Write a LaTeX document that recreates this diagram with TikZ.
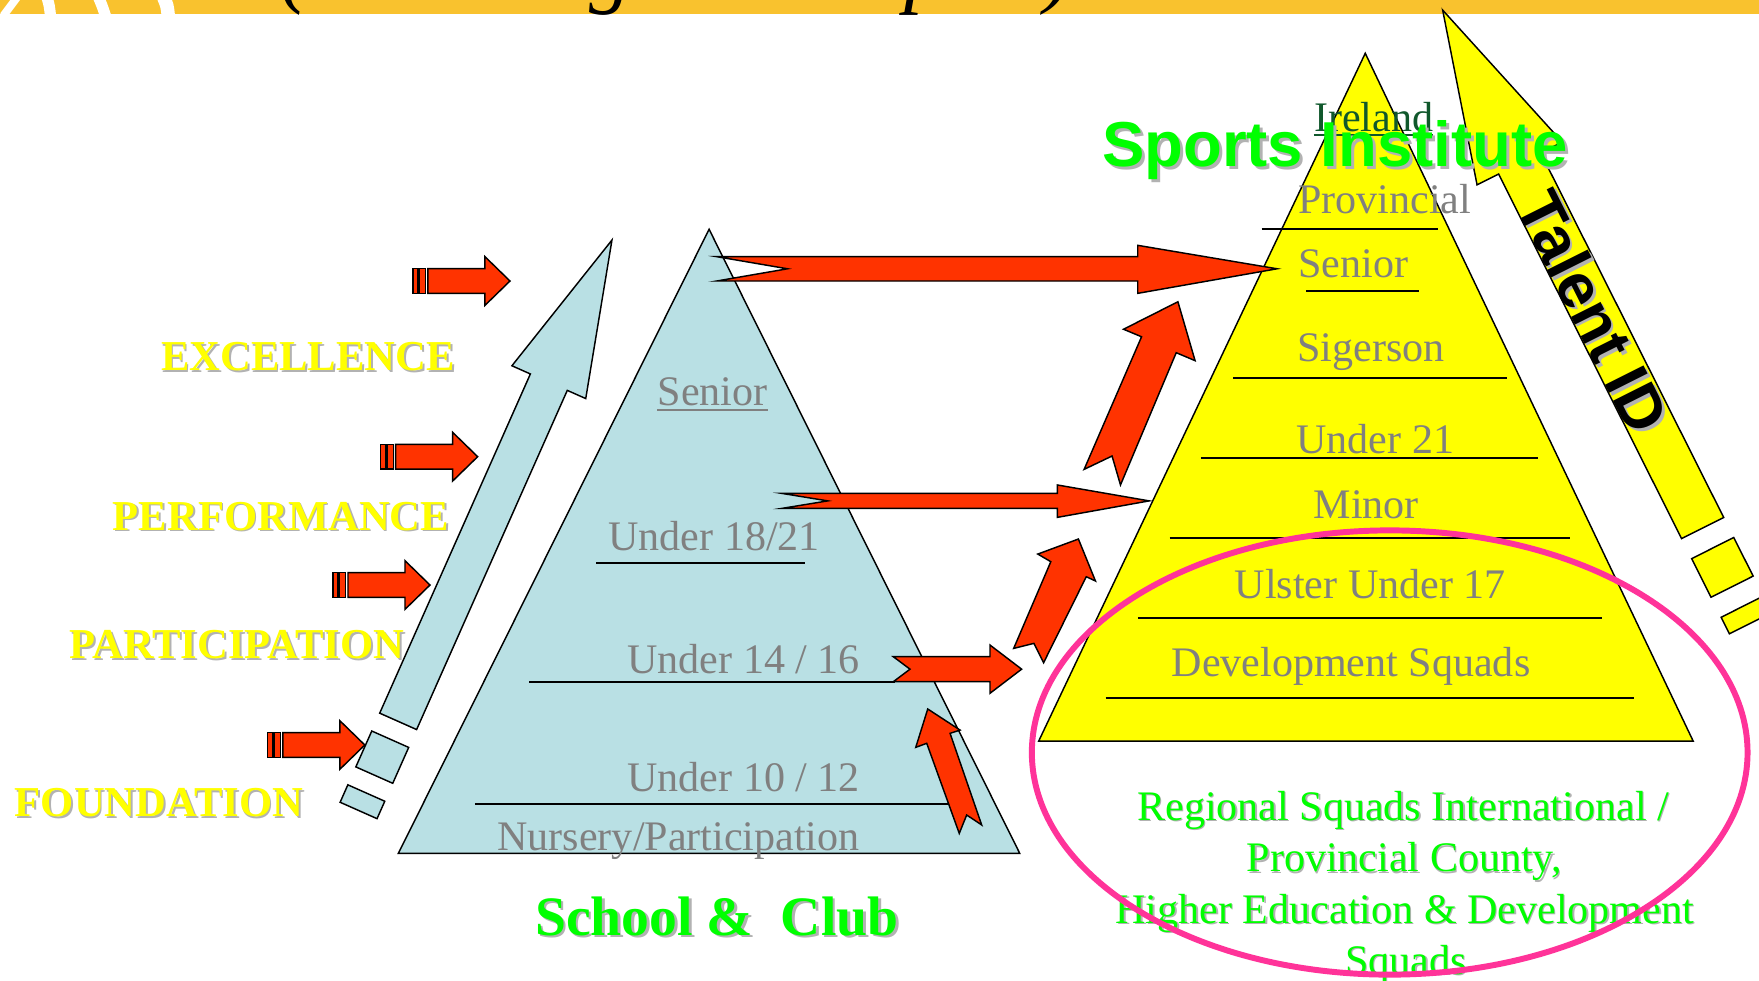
\documentclass[tikz,border=0pt]{standalone}
\usepackage{fontspec}
\setmainfont{Liberation Serif}
\newfontfamily\headsans{Liberation Sans}
\usetikzlibrary{calc}

\definecolor{bandgold}{RGB}{249,194,46}
\definecolor{clubblue}{RGB}{185,224,228}
\definecolor{flowred}{RGB}{255,51,0}
\definecolor{tiergray}{RGB}{128,128,128}
\definecolor{brightgreen}{RGB}{0,255,0}
\definecolor{instyellow}{RGB}{255,255,0}
\definecolor{ringpink}{RGB}{255,51,153}
\definecolor{irelandgreen}{RGB}{16,88,44}
\definecolor{shadowgray}{RGB}{178,178,178}

\newcommand\fsz[1]{\fontsize{#1}{#1}\selectfont}

% a label set twice: a grey drop shadow first, then the coloured text
\newcommand\shadowlabel[5]{% name, style, position, shadow offset, text
  \node[#2, text=shadowgray] (#1-shadow) at ($#3+(#4,#4)$) {#5};
  \node[#2] (#1) at #3 {#5};
}

% small feeder arrow with two tail bars, tip at (#2,#3)
\newcommand\feeder[3]{%
  \begin{scope}[shift={(#2,#3)}]
    \draw[redpart] (-86.6,-11) rectangle (-82.2,11);
    \draw[redpart] (-81.0,-11) rectangle (-75.1,11);
    \draw[redpart] (-73.1,-11) -- (-22.3,-11) -- (-22.3,-21.7) -- (0,0)
      coordinate (#1) -- (-22.3,21.7) -- (-22.3,11) -- (-73.1,11) -- cycle;
  \end{scope}}

\tikzset{
  outline/.style={draw=black, line width=1.3pt, line join=miter, miter limit=20},
  bluepart/.style={outline, fill=clubblue},
  redpart/.style={outline, fill=flowred},
  yellowpart/.style={outline, fill=instyellow},
  tierline/.style={draw=black, line width=1.7pt},
  tiertext/.style={anchor=base, inner sep=0pt, text=tiergray, font=\fsz{37.5}},
  stagetext/.style={anchor=base, inner sep=0pt, text=instyellow, font=\bfseries\fsz{38}},
  greentext/.style={anchor=base, inner sep=0pt, text=brightgreen, font=\fsz{37.5}},
}

\begin{document}
\begin{tikzpicture}[x=1pt, y=-1pt]
\useasboundingbox (0,0) rectangle (1568,874);
\fill[white] (0,0) rectangle (1568,874);
\begin{scope}
\clip (0,0) rectangle (1568,874);

% ---------- heading band ----------
\fill[bandgold] (0,0) rectangle (1568,12.5);
\begin{scope}
  \clip (0,0) rectangle (170,12.5);
  \draw[white, line width=7pt] (15,-2) -- (3,14);
  \draw[white, line width=10pt] (42,-2) .. controls (44,5) .. (45,14);
  \draw[white, line width=10pt] (88,-2) .. controls (91,5) .. (94,14);
  \draw[white, line width=12pt] (146,-2) .. controls (149,5) .. (150,14);
\end{scope}
\node[anchor=base west, inner sep=0pt, font=\itshape\fsz{75}] (title) at (250,-2) {(Advantage to us sport)};

% ---------- rising blue arrow with its broken tail ----------
\draw[bluepart] (545.5,214) coordinate (bluetip) -- (522.13,355.3) -- (505.68,347.99)
  -- (371.37,650.34) -- (338.47,635.72) -- (472.78,333.37) -- (456.33,326.06) -- cycle;
\draw[bluepart] (331.41,651.63) -- (364.31,666.25) -- (350.1,698.24) -- (317.2,683.62) -- cycle;
\draw[bluepart] (310.09,699.61) -- (342.99,714.23) -- (336.09,729.77) -- (303.19,715.15) -- cycle;

% ---------- feeder arrows and stage names ----------
\feeder{feedA}{454.6}{250.5}
\feeder{feedB}{425.8}{407.1}
\feeder{feedC}{383.3}{521.5}
\feeder{feedD}{325.2}{664.1}

\shadowlabel{excellence}{stagetext}{(274.5,330.5)}{1.6}{EXCELLENCE}
\shadowlabel{performance}{stagetext}{(250.4,472.5)}{1.6}{PERFORMANCE}
\shadowlabel{participation}{stagetext}{(211.2,586.9)}{1.6}{PARTICIPATION}
\shadowlabel{foundation}{stagetext}{(141.7,728)}{1.6}{FOUNDATION}

% ---------- School & Club pyramid ----------
\draw[bluepart] (632.1,204.4) -- (909,760.7) -- (355.1,760.7) -- cycle;
\draw[tierline] (531.3,501.6) -- (717.6,501.6);
\draw[tierline] (471.8,607.7) -- (797.5,607.7);
\draw[tierline] (423.4,717) -- (845.3,717);

\node[tiertext] (csenior) at (635.2,361.9) {Senior};
\draw[tiergray, line width=1.4pt] ($(csenior.base west)+(0,3.6)$) -- ($(csenior.base east)+(0,3.6)$);
\node[tiertext] (cu1821) at (636.7,490.3) {Under 18/21};
\node[tiertext] (cu1416) at (662.9,600.2) {Under 14 / 16};
\node[tiertext] (cu1012) at (662.9,705.7) {Under 10 / 12};
\node[tiertext] (cnursery) at (604.9,757.7) {Nursery/Participation};

% ---------- Sports Institute pyramid ----------
\draw[yellowpart] (1217,47.5) -- (1509.3,660.6) -- (925.9,660.6) -- cycle;
\draw[tierline] (1124.6,204.4) -- (1281.9,204.4);
\draw[tierline] (1164.6,259.1) -- (1265.3,259.1);
\draw[tierline] (1099.2,336.7) -- (1343.1,336.7);
\draw[tierline] (1070.5,408) -- (1371.2,408);
\draw[tierline] (1042.5,479.3) -- (1399.7,479.3);
\draw[tierline] (1014.4,550.6) -- (1427.7,550.6);
\draw[tierline] (985.5,621.9) -- (1456.6,621.9);

\node[tiertext, text=irelandgreen] (rireland) at (1224.4,117.4) {Ireland};
\draw[irelandgreen, line width=1.4pt] ($(rireland.base west)+(0,3)$) -- ($(rireland.base east)+(0,3)$);
\node[tiertext] (rprovincial) at (1234.3,190.2) {Provincial};
\node[tiertext] (rsenior) at (1206.5,247.2) {Senior};
\node[tiertext] (rsigerson) at (1222,322.4) {Sigerson};
\node[tiertext] (ru21) at (1225.9,404.2) {Under 21};
\node[tiertext] (rminor) at (1217.9,461.8) {Minor};
\node[tiertext] (rulster) at (1221.5,533.2) {Ulster Under 17};
\node[tiertext] (rdev) at (1204.3,603.2) {Development Squads};

% ---------- transfer arrows between the pyramids ----------
\draw[redpart] (638.9,228.8) -- (1014.2,228.8) -- (1014.2,218.7) -- (1138.4,239.6) coordinate (tipA)
  -- (1014.2,261.5) -- (1014.2,250.5) -- (638.9,250.5) -- (702,239.6) -- cycle;
\draw[redpart] (696.9,439.8) -- (942.5,439.8) -- (942.5,432.3) -- (1024.4,446.5) coordinate (tipB)
  -- (942.5,461.2) -- (942.5,453.2) -- (696.9,453.2) -- (737.9,446.5) -- cycle;
\draw[redpart] (796.3,585.4) -- (882.5,585.4) -- (882.5,575) -- (910.7,596.5) coordinate (tipC)
  -- (882.5,618) -- (882.5,607.7) -- (796.3,607.7) -- (811.2,596.5) -- cycle;
\draw[redpart] (1050,269) coordinate (tipD) -- (1065.3,321.5) -- (1048.5,314.4) -- (998.8,432.3)
  -- (991.3,406.5) -- (966.4,418.4) -- (1017.6,300.2) -- (1001.5,293.5) -- cycle;
\draw[redpart] (961.3,480.5) coordinate (tipE) -- (976.5,517.9) -- (968.3,514.1) -- (930.3,590.7)
  -- (921.7,573.5) -- (903.6,578) -- (936.7,500.7) -- (925.1,493.9) -- cycle;
\draw[redpart] (827,632) coordinate (tipF) -- (855.8,650.8) -- (846.9,653.7) -- (875.1,735.4)
  -- (861.7,726.5) -- (855.1,742.9) -- (826.1,662.6) -- (816.3,666.2) -- cycle;

% ---------- Talent ID arrow with its broken tail ----------
\draw[yellowpart] (1286,9) coordinate (talenttip) -- (1392.62,126.67) -- (1373.41,136.32)
  -- (1536.52,461.27) -- (1498.98,480.11) -- (1335.87,155.16) -- (1316.66,164.81) -- cycle;
\draw[yellowpart] (1507.95,497.98) -- (1545.49,479.14) -- (1562.76,513.55) -- (1525.22,532.39) -- cycle;
\draw[yellowpart] (1534.19,550.26) -- (1571.73,531.42) -- (1579.13,546.17) -- (1541.59,565.01) -- cycle;
\shadowlabel{talent}{anchor=center, inner sep=0pt, rotate=-63.35, text=black, font=\headsans\bfseries\fsz{56}}{(1420.4,277.6)}{2.4}{Talent ID}

% ---------- headings ----------
\shadowlabel{institute}{anchor=base, inner sep=0pt, text=brightgreen, font=\headsans\bfseries\fsz{56.6}}{(1190,148.6)}{2.6}{Sports Institute}
\shadowlabel{club}{anchor=base, inner sep=0pt, text=brightgreen, font=\bfseries\fsz{49.6}}{(639,833.5)}{2.4}{School \&\ \ Club}

\shadowlabel{regA}{greentext}{(1250.7,731)}{1.3}{Regional Squads International /}
\shadowlabel{regB}{greentext}{(1251.7,777)}{1.3}{Provincial County,}
\shadowlabel{regC}{greentext}{(1252.2,823)}{1.3}{Higher Education \& Development}
\shadowlabel{regD}{greentext}{(1253.2,868.5)}{1.3}{Squads}

% ---------- ring round the regional squads ----------
\draw[ringpink, line width=5.3pt] (1238.8,670.8) ellipse [x radius=319, y radius=198];

\end{scope}
\end{tikzpicture}
\end{document}
